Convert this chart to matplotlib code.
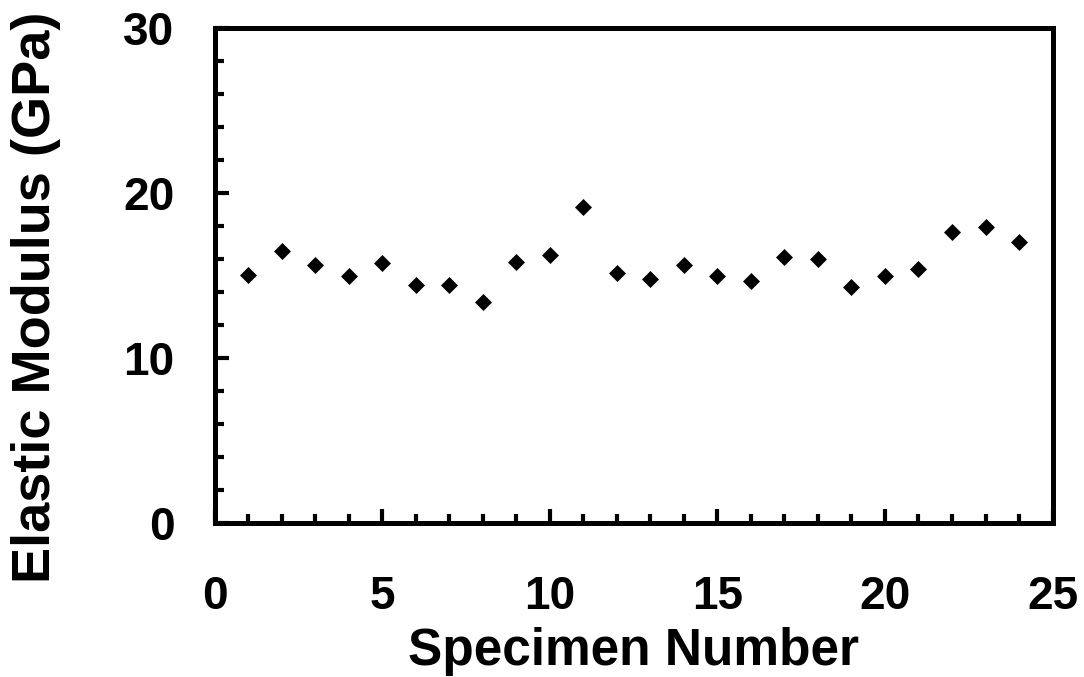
import numpy as np
from matplotlib import pyplot as plt
from matplotlib.ticker import MultipleLocator

# Data
specimen = np.arange(1, 25)
modulus = [15.06, 16.49, 15.68, 15.00, 15.80, 14.43, 14.47, 13.39,
           15.85, 16.25, 19.17, 15.18, 14.81, 15.64, 15.02, 14.67,
           16.13, 16.03, 14.30, 15.00, 15.42, 17.63, 17.98, 17.04]

plt.rcParams['font.family'] = ['Liberation Sans', 'DejaVu Sans']
plt.rcParams['font.weight'] = 'bold'

fig = plt.figure(figsize=(10.84, 6.77), dpi=100)
ax = fig.add_axes([0.198, 0.227, 0.773, 0.731])

ax.plot(specimen, modulus, 'D', color='black', markersize=8.5,
        markeredgewidth=0.5)

ax.set_xlim(0, 25)
ax.set_ylim(0, 30)
ax.xaxis.set_major_locator(MultipleLocator(5))
ax.xaxis.set_minor_locator(MultipleLocator(1))
ax.yaxis.set_major_locator(MultipleLocator(10))
ax.yaxis.set_minor_locator(MultipleLocator(2))

for side in ax.spines.values():
    side.set_linewidth(3.6)

ax.tick_params(axis='both', which='both', direction='in', width=3,
               labelsize=33, top=False, right=False)
ax.tick_params(axis='both', which='major', length=10)
ax.tick_params(axis='both', which='minor', length=6.5)
ax.tick_params(axis='x', which='major', pad=37)
ax.tick_params(axis='y', which='major', pad=29)

ax.set_xlabel('Specimen Number', fontsize=37, fontweight='bold')
ax.set_ylabel('Elastic Modulus (GPa)', fontsize=39, fontweight='bold')
ax.xaxis.set_label_coords(0.5, -0.21)
ax.yaxis.set_label_coords(-0.183, 0.457)

fig.savefig('out.png', dpi=100)
